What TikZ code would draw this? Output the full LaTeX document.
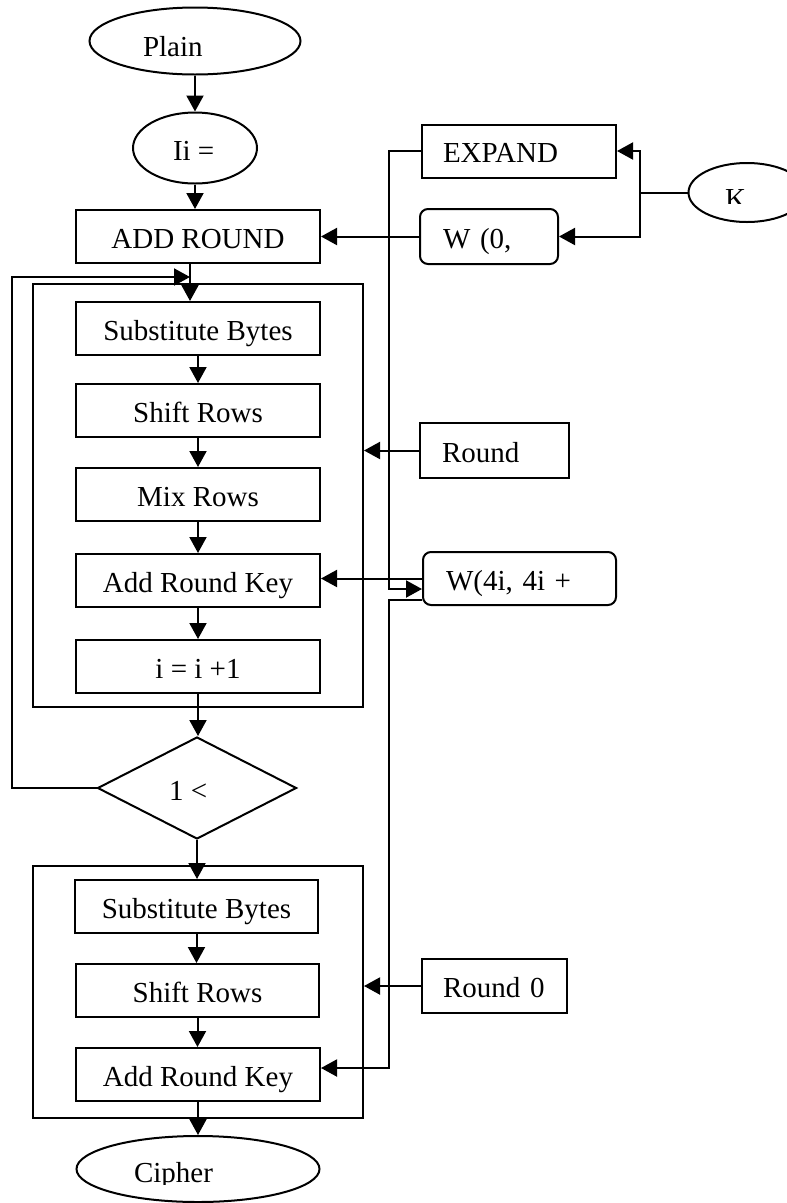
\documentclass[tikz,border=0pt]{standalone}
\usepackage{fontspec}
\setmainfont{Liberation Serif}
\usetikzlibrary{arrows.meta,shapes.geometric}
\begin{document}
\begin{tikzpicture}[x=1pt,y=-1pt,
  line width=2pt,
  every node/.style={font=\fontsize{29}{34}\selectfont, inner sep=0pt},
  arr/.style={-{Triangle[length=16pt,width=17pt]}},
  box/.style={draw, rectangle, text height=23pt, text depth=0pt, minimum height=53pt},
  sidebox/.style={box, align=left},
  frame/.style={draw, rectangle},
  oval/.style={draw, ellipse},
  lbl/.style={anchor=base west}
]
\useasboundingbox (0,0) rectangle (787,1203);
\clip (0,0) rectangle (787,1203);

% ---- main column ----
\node[oval, minimum width=211pt, minimum height=67pt] (plain) at (195,41) {};
\node[lbl] (plaintxt) at (142,56) {Plain};
\node[oval, minimum width=124pt, minimum height=71pt] (init) at (195,148) {};
\node[lbl] (inittxt) at (172,160) {Ii =};
\node[box, minimum width=244pt] (addr) at (198,236.5) {ADD ROUND};

% round loop
\node[frame, minimum width=330pt, minimum height=423pt] (loop) at (198,495.5) {};
\node[box, minimum width=244pt] (sub1) at (198,328.5) {Substitute Bytes};
\node[box, minimum width=244pt] (shift1) at (198,410.5) {Shift Rows};
\node[box, minimum width=244pt] (mix1) at (198,494.5) {Mix Rows};
\node[box, minimum width=244pt] (ark1) at (198,580.5) {Add Round Key};
\node[box, minimum width=244pt] (inc) at (198,666.5) {i = i +1};

\node[draw, diamond, minimum width=199pt, minimum height=102pt] (dec) at (197,788) {};
\node[lbl] (dectxt) at (168,800) {1 <};

% final round
\node[frame, minimum width=330pt, minimum height=252pt] (last) at (198,992) {};
\node[box, minimum width=243pt] (sub2) at (196.5,906.5) {Substitute Bytes};
\node[box, minimum width=243pt] (shift2) at (197.5,990.5) {Shift Rows};
\node[box, minimum width=244pt] (ark2) at (198,1074.5) {Add Round Key};

\node[oval, minimum width=243pt, minimum height=66pt] (cipher) at (198,1169) {};
\begin{scope}
  \clip (100,1140) rectangle (300,1184);
  \node[lbl] (ciphertxt) at (133,1182) {Cipher};
\end{scope}

% ---- key schedule side ----
\node[sidebox, text width=152pt, inner xsep=21pt] (expand) at (519,151) {EXPAND};
\node[sidebox, rounded corners=8pt, text width=92pt, inner xsep=23pt, minimum height=55pt] (w0) at (489,236.5) {W (0,};
\node[oval, minimum width=117pt, minimum height=59pt] (key) at (747,192.5) {};
\begin{scope}
  \clip (690,160) rectangle (787,203);
  \node[lbl] (keytxt) at (724,208) {K};
\end{scope}
\node[sidebox, text width=105pt, inner xsep=22pt, minimum height=55pt] (round) at (494.5,450.5) {Round};
\node[sidebox, rounded corners=8pt, text width=147pt, inner xsep=23pt] (w4) at (519.5,578.5) {W(4i, 4i +};
\node[sidebox, text width=103pt, inner xsep=21pt, minimum height=54pt] (round0) at (494.5,986) {Round 0};

% ---- main flow ----
\draw[arr] (plain.south) -- (init.north);
\draw[arr] (init.south) -- (init.south |- addr.north);
\draw[arr] ([xshift=-8pt]addr.south) -- ([xshift=-8pt]sub1.north);
\draw[arr] (sub1.south) -- (shift1.north);
\draw[arr] (shift1.south) -- (mix1.north);
\draw[arr] (mix1.south) -- (ark1.north);
\draw[arr] (ark1.south) -- (inc.north);
\draw[arr] (inc.south) -- (inc.south |- dec.north);
\draw[arr] (dec.west) -- ++(-85,0) |- ([xshift=-8pt,yshift=-13pt]addr.south);
\draw[arr] (dec.south) -- (dec.south |- sub2.north);
\draw[arr] (sub2.south) -- (sub2.south |- shift2.north);
\draw[arr] (shift2.south) -- (shift2.south |- ark2.north);
\draw[arr] (ark2.south) -- (cipher.north);

% ---- key inputs ----
\draw[arr] (key.west) -- ++(-48,0) |- (expand.east);
\draw[arr] (key.west) -- ++(-48,0) |- (w0.east);
\draw[arr] (w0.west) -- (w0.west -| addr.east);
\draw[arr] (expand.west) -- ++(-32,0) |- ([yshift=-10.5pt]w4.west);
\draw[arr] (w4.west) -- (w4.west -| ark1.east);
\draw[arr] ([yshift=-21.5pt]w4.west) -- ++(-33,0) |- ([yshift=6.5pt]ark2.east);
\draw[arr] (round.west) -- (round.west -| loop.east);
\draw[arr] (round0.west) -- (round0.west -| last.east);
\end{tikzpicture}
\end{document}
